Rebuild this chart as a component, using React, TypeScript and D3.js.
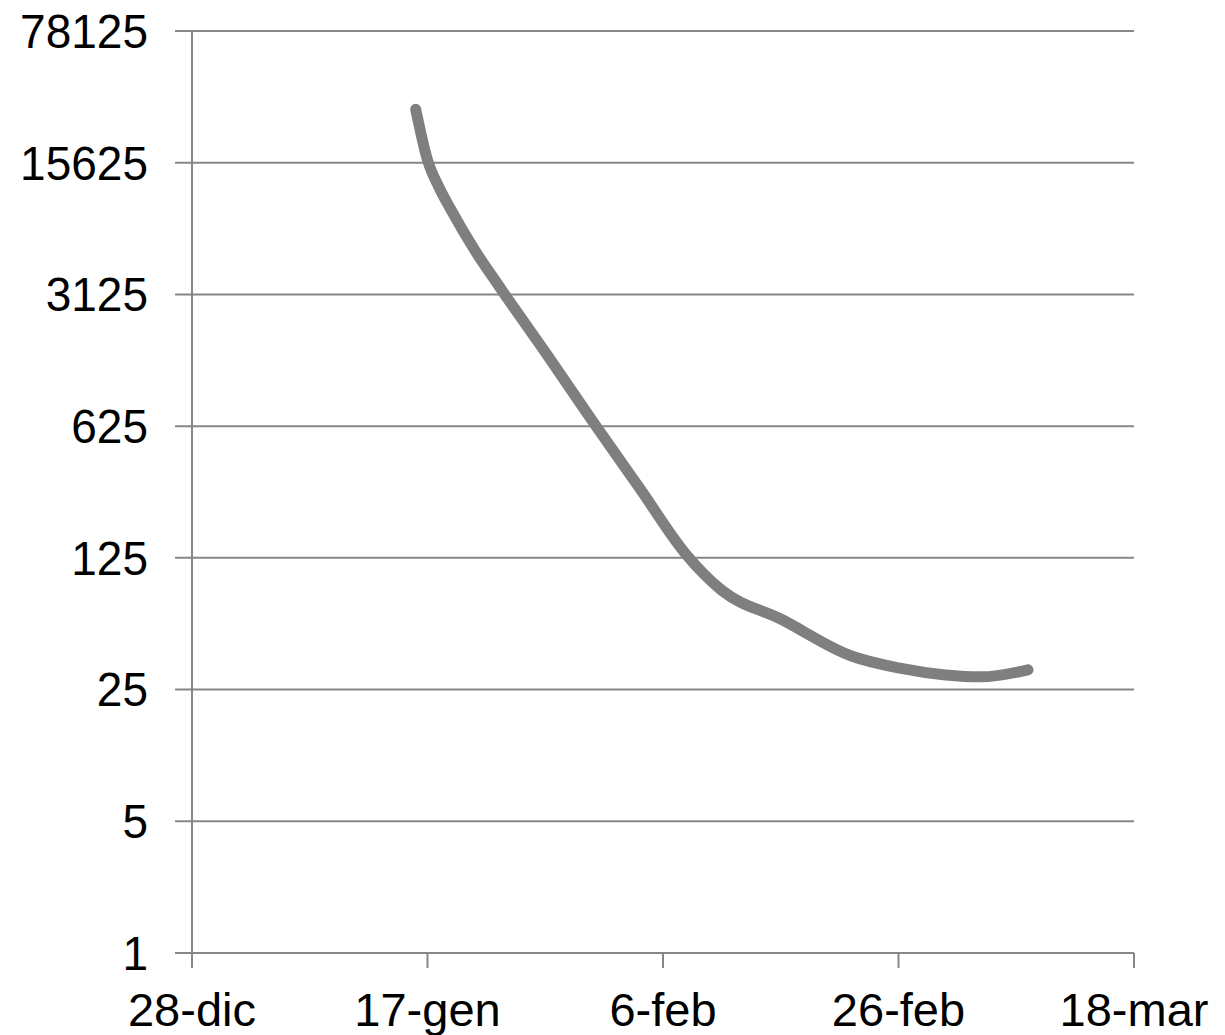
import React from "react";
import * as d3 from "d3";

const yTicks = [1, 5, 25, 125, 625, 3125, 15625, 78125];
const xTickDates = ["2014-12-28", "2015-01-17", "2015-02-06", "2015-02-26", "2015-03-18"];
const monthNames = ["gen", "feb", "mar", "apr", "mag", "giu", "lug", "ago", "set", "ott", "nov", "dic"];

const seriesDates = [
  "2015-01-16", "2015-01-17", "2015-01-18", "2015-01-19", "2015-01-21", "2015-01-23",
  "2015-01-27", "2015-01-31", "2015-02-04", "2015-02-08", "2015-02-11",
  "2015-02-16", "2015-02-22", "2015-02-26", "2015-03-02", "2015-03-05", "2015-03-09",
];
const seriesValues = [
  30000, 16160, 11490, 8781, 5384, 3510,
  1542, 666, 294, 129.5, 84,
  59.2, 37.7, 32.6, 29.9, 29.2, 31.8,
];

const W = 1225;
const H = 1035;
const left = 192;
const right = 1134;
const top = 31;
const bottom = 953;

const parse = d3.utcParse("%Y-%m-%d");

export default function App() {
  const x = d3
    .scaleUtc()
    .domain([parse(xTickDates[0])!, parse(xTickDates[xTickDates.length - 1])!])
    .range([left, right]);
  const y = d3.scaleLog().base(5).domain([1, 78125]).range([bottom, top]);

  const pts = seriesDates.map((d, i) => [x(parse(d)!), y(seriesValues[i])] as [number, number]);
  const line = d3.line().curve(d3.curveMonotoneX)(pts) || "";

  const fmt = (s: string) => {
    const d = parse(s)!;
    return `${d.getUTCDate()}-${monthNames[d.getUTCMonth()]}`;
  };

  const gridColor = "#868686";
  const font = "'Liberation Sans', Arial, sans-serif";

  return (
    <svg
      width={W}
      height={H}
      style={{ position: "absolute", left: 0, top: 0, background: "#fff" }}
    >
      {yTicks.map((t) => (
        <g key={t}>
          {t !== 1 && (
            <line x1={175} x2={right} y1={y(t)} y2={y(t)} stroke={gridColor} strokeWidth={2} />
          )}
          <text
            x={148}
            y={y(t)}
            textAnchor="end"
            dominantBaseline="central"
            fontFamily={font}
            fontSize={46}
            fill="#000"
            transform={`translate(0, ${y(t)}) scale(1, 1.05) translate(0, ${-y(t)})`}
          >
            {t}
          </text>
        </g>
      ))}
      <line x1={175} x2={right} y1={bottom} y2={bottom} stroke={gridColor} strokeWidth={2} />
      <line x1={left} x2={left} y1={top} y2={bottom + 15} stroke={gridColor} strokeWidth={2} />
      {xTickDates.map((d) => {
        const xx = x(parse(d)!);
        return (
          <g key={d}>
            <line x1={xx} x2={xx} y1={bottom} y2={bottom + 15} stroke={gridColor} strokeWidth={2} />
            <text
              x={xx}
              y={1026}
              textAnchor="middle"
              fontFamily={font}
              fontSize={47}
              fill="#000"
            >
              {fmt(d)}
            </text>
          </g>
        );
      })}
      <path
        d={line}
        fill="none"
        stroke="#7f7f7f"
        strokeWidth={11}
        strokeLinecap="round"
        strokeLinejoin="round"
      />
    </svg>
  );
}
